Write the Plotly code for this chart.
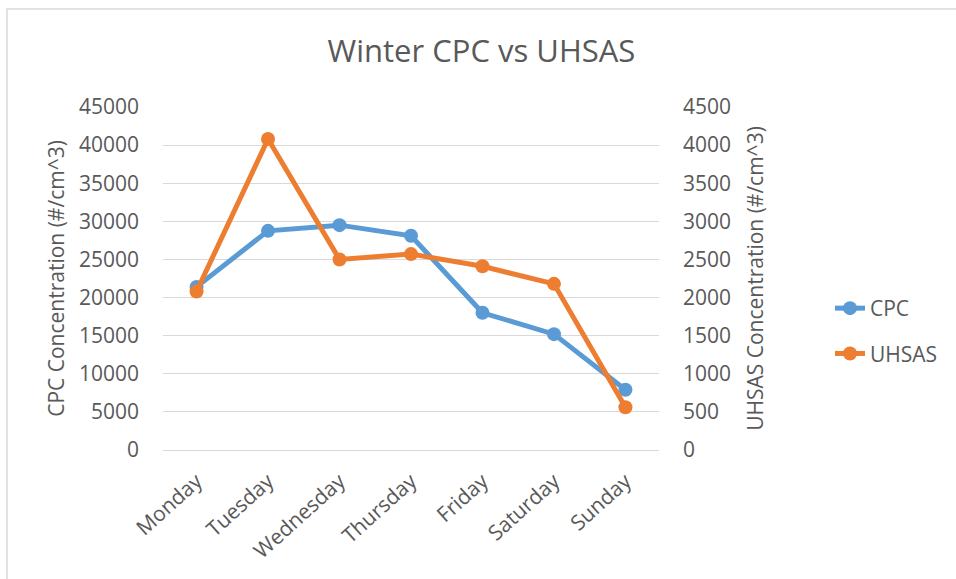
import plotly.graph_objects as go

days = ["Monday", "Tuesday", "Wednesday", "Thursday", "Friday", "Saturday", "Sunday"]
cpc = [21400, 28750, 29500, 28100, 18000, 15200, 7900]
uhsas = [2080, 4080, 2500, 2570, 2410, 2180, 560]

FONT = "Open Sans"
TXT = "#595959"
BLUE = "#5B9BD5"
ORANGE = "#ED7D31"
GRID = "#D9D9D9"

L, R, T, B = 163, 297, 107, 129
W, H = 956, 579
pw, ph = W - L - R, H - T - B

def px_x(p):
    return (p - L) / pw

def px_y(p):
    return (H - B - p) / ph

fig = go.Figure()
fig.add_trace(go.Scatter(
    x=days, y=cpc, name="CPC", mode="lines+markers",
    line=dict(color=BLUE, width=5), marker=dict(color=BLUE, size=14),
    legendgroup="a", yaxis="y"))
fig.add_trace(go.Scatter(
    x=days, y=uhsas, name="UHSAS", mode="lines+markers",
    line=dict(color=ORANGE, width=5), marker=dict(color=ORANGE, size=14),
    legendgroup="b", yaxis="y2"))

fig.update_layout(
    width=W, height=H,
    margin=dict(l=L, r=R, t=T, b=B),
    paper_bgcolor="white", plot_bgcolor="white",
    font=dict(family=FONT, color=TXT, size=20),
    title=dict(text="Winter CPC vs UHSAS", xref="container", x=481.5 / W,
               xanchor="center", yref="container", y=1 - 51 / H, yanchor="middle",
               font=dict(family=FONT, size=31, color=TXT)),
    xaxis=dict(type="category", showgrid=False, showline=False, zeroline=False,
               tickangle=-42, ticks="", ticklabelstandoff=14, automargin=False,
               tickfont=dict(size=21, color=TXT)),
    yaxis=dict(range=[0, 45000], dtick=5000, tickformat="d", showgrid=True,
               gridcolor=GRID, gridwidth=1.3, zeroline=True, zerolinecolor=GRID,
               zerolinewidth=1.3, showline=False, ticks="", ticklabelstandoff=23,
               automargin=False, tickfont=dict(size=21, color=TXT),
               title=dict(text="CPC Concentration (#/cm^3)", standoff=8,
                          font=dict(size=21, color=TXT))),
    yaxis2=dict(range=[0, 4500], dtick=500, tickformat="d", overlaying="y",
                side="right", showgrid=False, zeroline=False, showline=False,
                ticks="", ticklabelstandoff=23, automargin=False,
                tickfont=dict(size=21, color=TXT),
                title=dict(text="UHSAS Concentration (#/cm^3)", standoff=18,
                           font=dict(size=21, color=TXT))),
    legend=dict(x=px_x(830), y=px_y(288), xanchor="left", yanchor="top",
                tracegroupgap=15, traceorder="grouped",
                font=dict(size=21, color=TXT), bgcolor="rgba(0,0,0,0)"),
    shapes=[dict(type="rect", xref="paper", yref="paper",
                 x0=px_x(7), x1=px_x(1000), y0=px_y(620), y1=px_y(9),
                 line=dict(color="#D9D9D9", width=1.5), fillcolor="rgba(0,0,0,0)",
                 layer="below")],
)

fig.write_html("out.html", config={"displayModeBar": False},
               post_script="document.body.style.margin='0';document.body.style.padding='0';")
